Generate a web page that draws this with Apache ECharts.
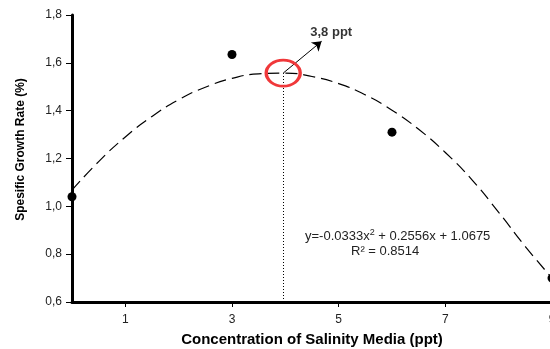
<!DOCTYPE html>
<html><head><meta charset="utf-8">
<script src="https://cdn.jsdelivr.net/npm/echarts@6/dist/echarts.min.js"></script>
<style>html,body{margin:0;padding:0;background:#fff}#c{width:550px;height:349px}</style>
</head><body><div id="c"></div>
<script>
// Observed data points (salinity ppt, growth rate %)
const salinity = [0, 3, 6, 9];
const growthRate = [1.04, 1.635, 1.31, 0.70];
// Fitted dashed curve
const curveX = [0, 0.5, 1, 1.5, 2, 2.5, 3, 3.5, 4, 4.5, 5, 5.5, 6, 6.5, 7, 7.5, 8, 8.5, 9];
const curveY = [1.068, 1.187, 1.290, 1.376, 1.446, 1.498, 1.535, 1.554, 1.557, 1.543, 1.513, 1.466, 1.402, 1.322, 1.225, 1.111, 0.975, 0.832, 0.70];
const xTickValues = [1, 3, 5, 7, 9];
// Optimum marker
const optimumX = 3.96, optimumY = 1.557;
const arrowEnd = [4.68, 1.69];
const optimumLabel = '3,8 ppt';
const labelPos = [4.86, 1.728];

const chart = echarts.init(document.getElementById('c'), null, {renderer: 'canvas'});
const font = 'Liberation Sans, Arial, sans-serif';
chart.setOption({
  animation: false,
  grid: {left: 72, right: -2, top: 15, bottom: 47, containLabel: false, outerBoundsMode: 'none'},
  xAxis: {
    type: 'value', min: 0, max: 9,
    name: 'Concentration of Salinity Media (ppt)', nameLocation: 'middle', nameGap: 30,
    nameTextStyle: {fontFamily: font, fontWeight: 'bold', fontSize: 15, color: '#000'},
    axisLine: {onZero: false, lineStyle: {color: '#000', width: 3}},
    axisTick: {show: true, length: 5, customValues: xTickValues, lineStyle: {color: '#000', width: 1}},
    axisLabel: {customValues: xTickValues, fontFamily: font, fontSize: 12, color: '#222', margin: 12},
    splitLine: {show: false}
  },
  yAxis: {
    type: 'value', min: 0.6, max: 1.8, interval: 0.2,
    name: 'Spesific Growth Rate (%)', nameLocation: 'middle', nameGap: 45,
    nameTextStyle: {fontFamily: font, fontWeight: 'bold', fontSize: 12, color: '#000', padding: [0, 0, 0, 18]},
    axisLine: {show: true, lineStyle: {color: '#000', width: 3}},
    axisTick: {show: true, length: 6, lineStyle: {color: '#000', width: 1}},
    axisLabel: {fontFamily: font, fontSize: 12, color: '#222', margin: 10,
      formatter: v => v.toFixed(1).replace('.', ',')},
    splitLine: {show: false}
  },
  series: [
    {
      type: 'line', smooth: true, symbol: 'none',
      data: curveX.map((x, i) => [x, curveY[i]]),
      lineStyle: {color: '#000', width: 1.2, type: [12, 6]},
      z: 2
    },
    {
      type: 'scatter', symbolSize: 9,
      data: salinity.map((x, i) => [x, growthRate[i]]),
      itemStyle: {color: '#000', opacity: 1}, z: 5,
      markLine: {
        silent: true, symbol: ['none', 'none'], label: {show: false},
        lineStyle: {color: '#000', width: 1, type: [1, 2]},
        data: [[{coord: [optimumX, 0.6]}, {coord: [optimumX, optimumY]}]]
      }
    },
    {
      type: 'scatter', symbol: 'circle', symbolSize: [34, 26],
      data: [[optimumX, optimumY]],
      itemStyle: {color: 'rgba(0,0,0,0)', borderColor: '#f0383a', borderWidth: 3, opacity: 1}, z: 6,
      markLine: {
        silent: true, symbol: ['none', 'arrow'], symbolSize: 9, label: {show: false},
        lineStyle: {color: '#000', width: 1, type: 'solid'},
        data: [[{coord: [optimumX, optimumY]}, {coord: arrowEnd}]]
      }
    },
    {
      type: 'scatter', symbolSize: 0,
      data: [labelPos],
      label: {show: true, position: 'inside', formatter: optimumLabel,
        fontFamily: font, fontWeight: 'bold', fontSize: 13, color: '#000'},
      z: 7
    }
  ],
  graphic: [
    {
      type: 'text', left: 305, top: 228,
      style: {
        text: 'y=-0.0333x{sup|2} + 0.2556x + 1.0675',
        font: '13px ' + font, fill: '#222',
        rich: {sup: {fontSize: 9, verticalAlign: 'top', padding: [0, 0, 7, 0], fill: '#222'}}
      }
    },
    {
      type: 'text', left: 351, top: 245,
      style: {text: 'R² = 0.8514', font: '13px ' + font, fill: '#222'}
    }
  ]
});
</script></body></html>
